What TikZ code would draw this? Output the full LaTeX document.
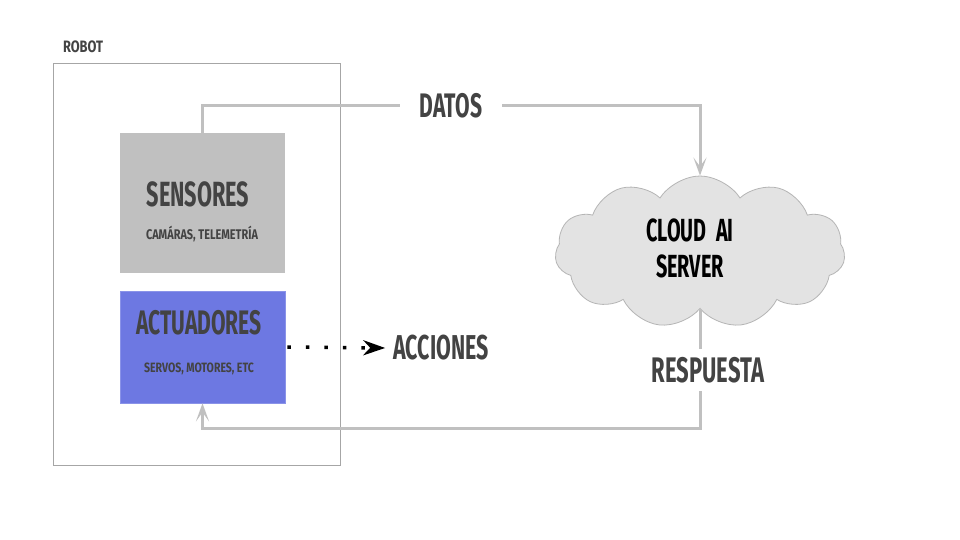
\documentclass[tikz,border=0pt]{standalone}
\usepackage{fontspec}
\setmainfont{Fira Sans}[FakeStretch=0.62]
\newfontfamily\smallf{Fira Sans}[FakeStretch=0.78]
\usetikzlibrary{shapes.symbols,arrows.meta}
\definecolor{txt}{HTML}{434343}
\definecolor{lgray}{HTML}{C0C0C0}
\definecolor{framec}{HTML}{A6A6A6}
\definecolor{actc}{HTML}{6D78E2}
\definecolor{cloudfill}{HTML}{E3E3E3}
\definecolor{cloudline}{HTML}{B5B5B5}
\begin{document}
\begin{tikzpicture}[x=1pt,y=-1pt,
  lbl/.style={text=txt,font=\bfseries\fontsize{#1}{#1}\selectfont,inner sep=0pt},
  lbl/.default=32,
  slbl/.style={text=txt,font=\smallf\bfseries\fontsize{#1}{#1}\selectfont,inner sep=0pt},
  slbl/.default=14,
  boxs/.style={minimum width=165pt,inner sep=0pt},
  conn/.style={draw=lgray,line width=3pt},
  gtip/.style={-{Stealth[length=18pt,width=13pt,inset=9pt]}}
]
\useasboundingbox[fill=white] (0,0) rectangle (960,540);
% robot frame
\node[draw=framec,line width=0.9pt,minimum width=287pt,minimum height=402pt,inner sep=0pt] (robot) at (196.5,264) {};
\node[slbl=16.5] (robotl) at (83,47) {ROBOT};
% sensores
\node[boxs,fill=lgray,minimum height=140pt] (sens) at (202.5,203) {};
\node[lbl=35] (senst) at (198,194) {SENSORES};
\node[slbl=14] (senss) at (202,234) {CAMÁRAS, TELEMETRÍA};
% actuadores
\node[boxs,fill=actc,draw=actc!80!white,line width=0.6pt,minimum height=112pt] (act) at (202.5,347) {};
\node[lbl=34] (actt) at (199,323) {ACTUADORES};
\node[slbl=13.5] (acts) at (199,369) {SERVOS, MOTORES, ETC};
% acciones
\node[lbl=34.5] (acc) at (441,348) {ACCIONES};
\draw[line width=3.5pt,dash pattern=on 3.5pt off 15pt,-{Stealth[length=22pt,width=15pt,inset=7pt]}]
  ([xshift=2pt]act.east) -- ([xshift=-8pt]acc.west);
% cloud
\node[cloud,cloud puffs=11,cloud puff arc=115,aspect=1.9,fill=cloudfill,draw=cloudline,line width=0.8pt,
  minimum width=290pt,minimum height=152pt,inner sep=0pt] (cloud) at (700,252) {};
\node[text=black,font=\bfseries\fontsize{32}{36}\selectfont,align=center,inner sep=0pt] (cloudt) at (690,248) {CLOUD\ \ AI\\SERVER};
% datos
\node[lbl=34,inner xsep=20pt,inner ysep=4pt] (datos) at (451,106) {DATOS};
\draw[conn] (sens.north) |- (datos.west);
\draw[conn,gtip] (datos.east) -| (cloud.north);
% respuesta
\node[lbl=35.5,inner ysep=8pt] (resp) at (708,370) {RESPUESTA};
\coordinate (ret) at (202.5,428);
\draw[conn] (cloud.south) -- (cloud.south |- resp.north);
\draw[conn,gtip] (cloud.south |- resp.south) |- (ret) -- (act.south);
\end{tikzpicture}
\end{document}
